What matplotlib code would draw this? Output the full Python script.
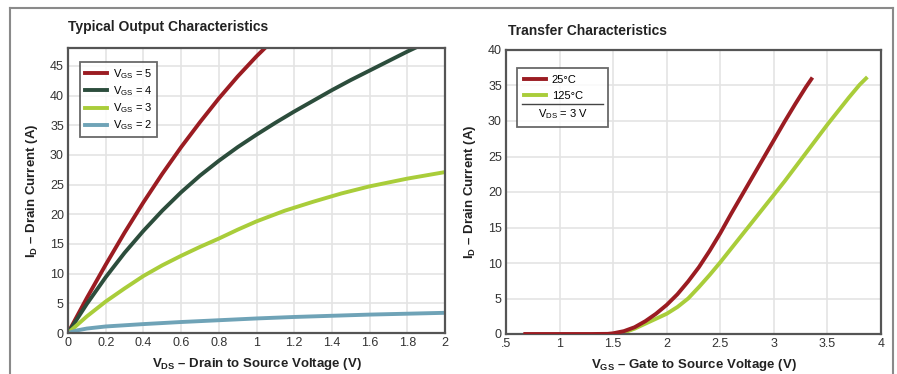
import matplotlib.pyplot as plt
from matplotlib.lines import Line2D

plt.rcParams["font.family"] = ["Liberation Sans", "DejaVu Sans"]
plt.rcParams["mathtext.fontset"] = "custom"
plt.rcParams["mathtext.rm"] = "Liberation Sans"
plt.rcParams["mathtext.bf"] = "Liberation Sans:bold"

# output characteristics (V_DS in V, I_D in A)
vds_5 = [0, 0.1, 0.2, 0.3, 0.4, 0.5, 0.6, 0.7, 0.8, 0.9, 1.0, 1.045]
id_5 = [0, 5.9, 11.5, 16.9, 22.0, 26.8, 31.3, 35.5, 39.5, 43.2, 46.6, 48.0]
vds_4 = [0, 0.1, 0.2, 0.3, 0.4, 0.5, 0.6, 0.7, 0.8, 0.9, 1.0, 1.1, 1.2, 1.3, 1.4, 1.5, 1.6, 1.7, 1.8, 1.84]
id_4 = [0, 4.9, 9.4, 13.5, 17.2, 20.6, 23.7, 26.5, 29.0, 31.3, 33.4, 35.4, 37.3, 39.1, 40.9, 42.6, 44.2, 45.8, 47.4, 48.0]
vds_3 = [0, 0.1, 0.2, 0.3, 0.4, 0.5, 0.6, 0.7, 0.8, 0.9, 1.0, 1.15, 1.3, 1.45, 1.6, 1.8, 2.0]
id_3 = [0, 2.8, 5.3, 7.5, 9.6, 11.4, 13.0, 14.5, 15.9, 17.4, 18.8, 20.6, 22.1, 23.5, 24.7, 26.0, 27.1]
vds_2 = [0, 0.05, 0.1, 0.2, 0.3, 0.4, 0.6, 0.8, 1.0, 1.2, 1.4, 1.6, 1.8, 2.0]
id_2 = [0, 0.45, 0.75, 1.1, 1.3, 1.5, 1.85, 2.15, 2.45, 2.7, 2.9, 3.1, 3.25, 3.4]

# transfer characteristics (V_GS in V, I_D in A), V_DS = 3 V
vgs_25 = [0.68, 1.0, 1.3, 1.45, 1.5, 1.6, 1.7, 1.8, 1.9, 2.0, 2.1, 2.2, 2.3, 2.4, 2.5,
          2.6, 2.7, 2.8, 2.9, 3.0, 3.1, 3.2, 3.3, 3.35]
id_25 = [0, 0, 0, 0.02, 0.1, 0.4, 0.95, 1.8, 2.85, 4.1, 5.6, 7.4, 9.4, 11.7, 14.2,
         16.9, 19.5, 22.1, 24.7, 27.3, 29.9, 32.4, 34.8, 35.9]
vgs_125 = [1.5, 1.6, 1.7, 1.8, 1.9, 2.0, 2.1, 2.2, 2.3, 2.4, 2.5, 2.6, 2.7, 2.8, 2.9,
           3.0, 3.1, 3.2, 3.3, 3.4, 3.5, 3.6, 3.7, 3.8, 3.86]
id_125 = [0, 0.2, 0.75, 1.45, 2.15, 2.85, 3.8, 5.0, 6.6, 8.3, 10.1, 12.0, 13.9, 15.8, 17.7,
          19.6, 21.5, 23.5, 25.5, 27.5, 29.5, 31.4, 33.3, 35.1, 36.0]

out_x = [0, 0.2, 0.4, 0.6, 0.8, 1, 1.2, 1.4, 1.6, 1.8, 2]
out_xlabels = ["0", "0.2", "0.4", "0.6", "0.8", "1", "1.2", "1.4", "1.6", "1.8", "2"]
tr_x = [0.5, 1, 1.5, 2, 2.5, 3, 3.5, 4]
tr_xlabels = [".5", "1", "1.5", "2", "2.5", "3", "3.5", "4"]

c_red = "#9b1c22"
c_dark = "#2c4d3c"
c_lime = "#a9cd3a"
c_blue = "#6fa3b7"
c_grid = "#e4e4e4"
c_spine = "#555555"
c_text = "#333333"

W, H = 897, 374
fig = plt.figure(figsize=(W / 100, H / 100), dpi=100)
fig.patch.set_facecolor("white")

ax1 = fig.add_axes([68 / W, 1 - 333 / H, (445 - 68) / W, (333 - 48) / H])
ax2 = fig.add_axes([506 / W, 1 - 334 / H, (881 - 506) / W, (334 - 50) / H])

lw = 2.8
ax1.plot(vds_5, id_5, color=c_red, lw=lw, label=r"V$_\mathrm{GS}$ = 5")
ax1.plot(vds_4, id_4, color=c_dark, lw=lw, label=r"V$_\mathrm{GS}$ = 4")
ax1.plot(vds_3, id_3, color=c_lime, lw=lw, label=r"V$_\mathrm{GS}$ = 3")
ax1.plot(vds_2, id_2, color=c_blue, lw=lw, label=r"V$_\mathrm{GS}$ = 2")
ax1.set_xlim(0, 2)
ax1.set_ylim(0, 48)
ax1.set_xticks(out_x, out_xlabels)
ax1.set_yticks(range(0, 50, 5))

ax2.plot(vgs_125, id_125, color=c_lime, lw=lw, zorder=2)
ax2.plot(vgs_25, id_25, color=c_red, lw=lw, zorder=3)
ax2.set_xlim(0.5, 4)
ax2.set_ylim(0, 40)
ax2.set_xticks(tr_x, tr_xlabels)
ax2.set_yticks(range(0, 45, 5))

for ax in (ax1, ax2):
    ax.grid(True, color=c_grid, lw=1.2)
    ax.set_axisbelow(True)
    ax.tick_params(length=0, labelsize=9, labelcolor=c_text, pad=3)
    for s in ax.spines.values():
        s.set_color(c_spine)
        s.set_linewidth(1.6)

lab = dict(fontsize=9.5, fontweight="bold", color="#222222")
ax1.set_xlabel(r"V$_\mathbf{DS}$ – Drain to Source Voltage (V)", labelpad=5, **lab)
ax1.set_ylabel(r"I$_\mathbf{D}$ – Drain Current (A)", labelpad=7, **lab)
ax2.set_xlabel(r"V$_\mathbf{GS}$ – Gate to Source Voltage (V)", labelpad=5, **lab)
ax2.set_ylabel(r"I$_\mathbf{D}$ – Drain Current (A)", labelpad=7, **lab)

fig.text(68 / W, 1 - 27 / H, "Typical Output Characteristics", fontsize=10,
         fontweight="bold", color="#222222", va="center", ha="left")
fig.text(508 / W, 1 - 31 / H, "Transfer Characteristics", fontsize=10,
         fontweight="bold", color="#222222", va="center", ha="left")

leg_kw = dict(frameon=True, fancybox=False, edgecolor="#444444", fontsize=8,
              handlelength=2.0, handletextpad=0.5, borderpad=0.45, labelspacing=0.3,
              borderaxespad=0)
l1 = ax1.legend(loc="upper left", bbox_to_anchor=(0.032, 0.95), **leg_kw)
l1.get_frame().set_linewidth(1.3)

leg_kw["labelspacing"] = 0.55
leg_kw["borderpad"] = 0.6
h = [Line2D([], [], color=c_red, lw=lw), Line2D([], [], color=c_lime, lw=lw),
     Line2D([], [], color="none")]
l2 = ax2.legend(h, ["25°C", "125°C", r"V$_\mathrm{DS}$ = 3 V"], loc="upper left",
                bbox_to_anchor=(0.03, 0.937), **leg_kw)
l2.get_frame().set_linewidth(1.3)
l2.get_texts()[2].set_x(-14)

# separator line inside the transfer legend
fig.canvas.draw()
lb = l2.get_window_extent()
t1 = l2.get_texts()[1].get_window_extent()
t2 = l2.get_texts()[2].get_window_extent()
ysep = (t1.y0 + t2.y1) / 2 / H
fig.add_artist(Line2D([(lb.x0 + 5) / W, (lb.x1 - 5) / W], [ysep, ysep], color="#444444", lw=1.0))

# outer frame
frame = "#8a8a8a"
for xs, ys in [([10, 10], [374, 8]), ([10, 893], [8, 8]), ([893, 893], [8, 374])]:
    fig.add_artist(Line2D([x / W for x in xs], [1 - y / H for y in ys], color=frame, lw=1.5))

fig.savefig("out.png", dpi=100)
